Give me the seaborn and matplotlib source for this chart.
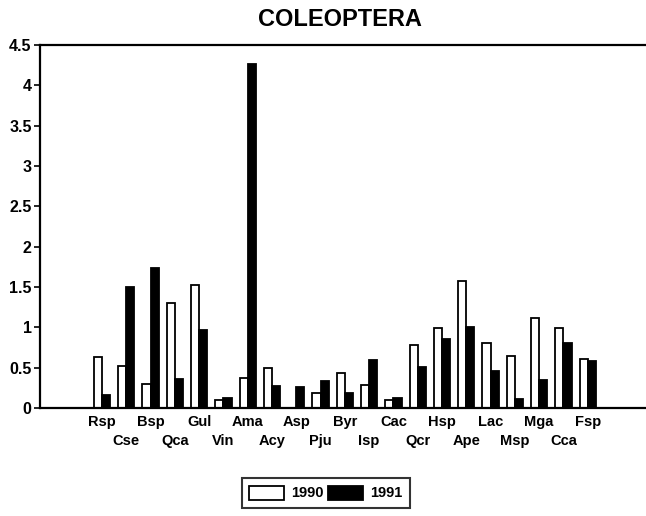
#!/usr/bin/env python3
# coding: utf-8
# COLEOPTERA - abundance per species, 1990 vs 1991
import pandas as pd
import numpy as np
import matplotlib
matplotlib.use("Agg")
import matplotlib.pyplot as plt
import seaborn as sns

# **--- Data**
species = ['Rsp', 'Cse', 'Bsp', 'Qca', 'Gul', 'Vin', 'Ama', 'Acy', 'Asp', 'Pju', 'Byr',
           'Isp', 'Cac', 'Qcr', 'Hsp', 'Ape', 'Lac', 'Msp', 'Mga', 'Cca', 'Fsp']
y1990 = [0.63, 0.52, 0.30, 1.30, 1.52, 0.10, 0.37, 0.49, 0.00, 0.19, 0.44,
         0.28, 0.10, 0.78, 0.99, 1.57, 0.80, 0.65, 1.11, 0.99, 0.61]
y1991 = [0.16, 1.50, 1.73, 0.36, 0.97, 0.12, 4.27, 0.27, 0.26, 0.33, 0.19,
         0.60, 0.12, 0.51, 0.85, 1.01, 0.46, 0.11, 0.35, 0.80, 0.58]
years = ['1990', '1991']
yticks = [0, 0.5, 1, 1.5, 2, 2.5, 3, 3.5, 4, 4.5]
ytick_labels = ['0', '0.5', '1', '1.5', '2', '2.5', '3', '3.5', '4', '4.5']

df = pd.DataFrame({
    'species': species * 2,
    'year': [years[0]] * len(species) + [years[1]] * len(species),
    'value': y1990 + y1991,
})

# **--- Style**
sns.set_style('white')
plt.rcParams['font.family'] = ['Liberation Sans', 'DejaVu Sans']
plt.rcParams['text.color'] = 'black'
plt.rcParams['xtick.color'] = 'black'
plt.rcParams['ytick.color'] = 'black'

fig = plt.figure(figsize=(6.46, 5.16), dpi=100)
ax = fig.add_axes([40 / 646, 108 / 516, 1 - 40 / 646, 363 / 516])

sns.barplot(data=df, x='species', y='value', hue='year', order=species,
            hue_order=years, palette={'1990': 'white', '1991': 'black'},
            edgecolor='black', linewidth=1.3, width=0.67, ax=ax)

ax.set_xlim(-2.55, 22.4)
ax.set_ylim(0, 4.5)
ax.set_xlabel('')
ax.set_ylabel('')

# staggered labels: even ones on the main axis, odd ones on a second axis lower down
even = list(range(0, len(species), 2))
odd = list(range(1, len(species), 2))
ax.set_xticks(even)
ax.set_xticklabels([species[i] for i in even], fontsize=10.5, fontweight='bold')
ax.tick_params(axis='x', which='major', length=0, pad=5)
ax.set_xticks(np.arange(len(species) - 1) + 0.5, minor=True)
ax.tick_params(axis='x', which='minor', direction='out', length=4, width=1.2, color='black')

sec = ax.secondary_xaxis('bottom')
sec.set_xticks(odd)
sec.set_xticklabels([species[i] for i in odd], fontsize=10.5, fontweight='bold')
sec.tick_params(axis='x', length=0, pad=19)
sec.spines['bottom'].set_visible(False)

ax.set_yticks(yticks)
ax.set_yticklabels(ytick_labels, fontsize=11.5, fontweight='bold')
ax.tick_params(axis='y', direction='out', length=4, width=1.2, color='black', pad=2, left=True)

for side in ['left', 'bottom', 'top']:
    ax.spines[side].set_color('black')
    ax.spines[side].set_linewidth(1.6)
ax.spines['right'].set_visible(False)

fig.text(340 / 646, 1 - 19 / 516, 'COLEOPTERA', ha='center', va='center',
         fontsize=17, fontweight='bold', color='black')

# **--- Legend below the plot**
handles, labels = ax.get_legend_handles_labels()
ax.get_legend().remove()
leg = fig.legend(handles, labels, loc='center', bbox_to_anchor=(326 / 646, 1 - 493 / 516),
                 ncol=2, frameon=True, fancybox=False, edgecolor='black',
                 handlelength=2.4, handleheight=1.1, handletextpad=0.5,
                 columnspacing=0.3, borderpad=0.5, prop={'size': 10.5, 'weight': 'bold'})
leg.get_frame().set_linewidth(1.5)

plt.savefig('out.png', dpi=100)
